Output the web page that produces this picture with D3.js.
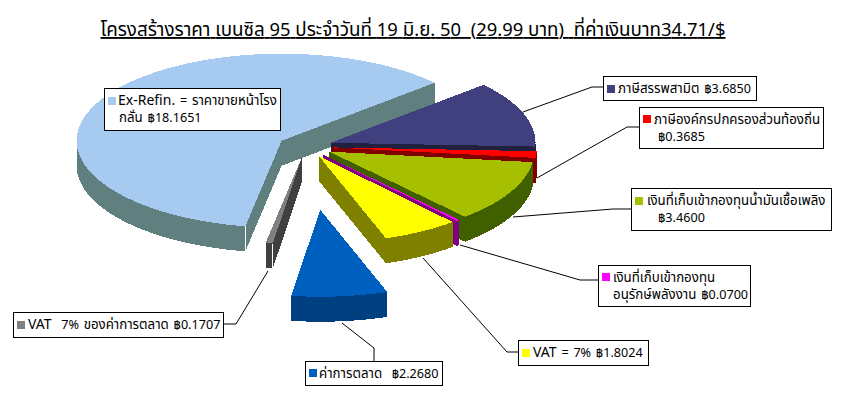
<!DOCTYPE html>
<html><head><meta charset="utf-8">
<script src="https://cdn.jsdelivr.net/npm/d3@7/dist/d3.min.js"></script>
<style>html,body{margin:0;padding:0;background:#fff}svg{display:block}</style>
</head><body><svg id="c" width="842" height="400"></svg>
<script>
const titleText = "โครงสร้างราคา เบนซิล 95 ประจำวันที่ 19 มิ.ย. 50  (29.99 บาท)  ที่ค่าเงินบาท34.71/$";
const categories = ["Ex-Refin. = ราคาขายหน้าโรงกลั่น","ภาษีสรรพสามิต","ภาษีองค์กรปกครองส่วนท้องถิ่น","เงินที่เก็บเข้ากองทุนน้ำมันเชื้อเพลิง","เงินที่เก็บเข้ากองทุนอนุรักษ์พลังงาน","VAT = 7%","ค่าการตลาด","VAT  7% ของค่าการตลาด"];
const values = [18.1651,3.6850,0.3685,3.4600,0.0700,1.8024,2.2680,0.1707];
const topColors = ["#A6CAF0","#40407F","#FF0000","#A6BF00","#FF00FF","#FFFF00","#0060C0","#808080"];
const wallColors = ["#607F7F","#20203F","#800000","#406000","#800080","#808000","#004080","#404040"];
const explodePct = [13.6,12.7,12.7,12.7,12.7,12.7,73,12.7];
const labelLines = [
 ["Ex-Refin. = ราคาขายหน้าโรง","กลั่น ฿18.1651"],
 ["ภาษีสรรพสามิต ฿3.6850"],
 ["ภาษีองค์กรปกครองส่วนท้องถิ่น","฿0.3685"],
 ["เงินที่เก็บเข้ากองทุนน้ำมันเชื้อเพลิง","฿3.4600"],
 ["เงินที่เก็บเข้ากองทุน","อนุรักษ์พลังงาน ฿0.0700"],
 ["VAT = 7% ฿1.8024"],
 ["ค่าการตลาด  ฿2.2680"],
 ["VAT  7% ของค่าการตลาด ฿0.1707"]
];
const labelBoxes = [[104,88,176,42],[603,76,153,24],[639,107,184,41],[631,188,200,42],[598,265,152,41],[518,340,130,25],[305,361,137,24],[13,312,210,25]];
const swatchTop = [9,9,8,9,8,9,8,9];
const firstIndent = [14,15,15,16,15,15,14,15];
const contIndent = [15,0,19,27,15,0,0,0];
const leaders = [
 null,
 [[523,112],[592,87],[603,87]],
 [[537,178],[627,127],[639,127]],
 [[513,217],[613,209],[631,209]],
 [[460,245],[580,280],[598,280]],
 [[423,258],[507,352],[518,352]],
 [[342,323],[374,348],[374,361]],
 [[268,271],[236,324],[223,324]]
];
const FONT = "Tahoma, 'Noto Sans Thai', 'Noto Sans', 'DejaVu Sans', sans-serif";
const cx=306, cy=146.5, rx=205, ry=87, depth=25;
const x = d3.scaleLinear().domain([-1,1]).range([-rx,rx]);
const y = d3.scaleLinear().domain([-1,1]).range([-ry,ry]);
const svg = d3.select("#c");
const rad = d=>d*Math.PI/180;
const pie = d3.pie().sort(null).startAngle(rad(190.2)).endAngle(rad(190.2+360));
const arcs = pie(values);
const line = d3.line();
const gP = svg.append("g").attr("shape-rendering","crispEdges");
const order = [0,7,1,2,3,4,5,6];
function pt(a,ox,oy,dz){return [ox+x(Math.sin(a)), oy-y(Math.cos(a))+dz];}
function arcPts(a0,a1,ox,oy,dz){const n=Math.max(2,Math.ceil((a1-a0)/rad(1)));return d3.range(n+1).map(i=>pt(a0+(a1-a0)*i/n,ox,oy,dz));}
order.forEach(i=>{
  const d=arcs[i], mid=(d.startAngle+d.endAngle)/2, e=explodePct[i]/100;
  const ox=cx+x(e*Math.sin(mid)), oy=cy-y(e*Math.cos(mid));
  const v0=[ox,oy], v1=[ox,oy+depth];
  [d.startAngle,d.endAngle].forEach(a=>{
    const p=pt(a,ox,oy,0), q=pt(a,ox,oy,depth);
    gP.append("path").attr("d",line([v0,p,q,v1])+"Z").attr("fill",wallColors[i]);
  });
  [0,1].forEach(k=>{
    const lo=Math.max(d.startAngle,rad(90+360*k)), hi=Math.min(d.endAngle,rad(270+360*k));
    if(hi>lo){
      const a=arcPts(lo,hi,ox,oy,0), b=arcPts(lo,hi,ox,oy,depth).reverse();
      gP.append("path").attr("d",line(a.concat(b))+"Z").attr("fill",wallColors[i]);
    }
  });
  gP.append("path").attr("d",line([v0].concat(arcPts(d.startAngle,d.endAngle,ox,oy,0)))+"Z").attr("fill",topColors[i]);
  if(i===0||i===7){
    const a=d.startAngle, p=pt(a,ox,oy,0), q=pt(a,ox,oy,depth);
    svg.append("path").attr("d",line([p,q])).attr("stroke","#fff").attr("fill","none").attr("shape-rendering","crispEdges");
  }
});
function runs(sel,t,thai,letters,other){
  (t.match(/[\u0E00-\u0E3E\u0E40-\u0E7F]+|[A-Za-z\-.=%]+(?![0-9])|[^\u0E00-\u0E3E\u0E40-\u0E7F]/g)||[]).forEach(r=>{
    const size=/^[\u0E00-\u0E3E\u0E40-\u0E7F]/.test(r)?thai:(/^[A-Za-z]/.test(r)?letters:other);
    sel.append("tspan").attr("font-size",size).text(r);
  });
}
leaders.forEach(l=>{ if(l) svg.append("path").attr("d",line(l)).attr("fill","none").attr("stroke","#000").attr("stroke-width",1); });
labelBoxes.forEach((b,i)=>{
  const g=svg.append("g");
  g.append("rect").attr("x",b[0]+.5).attr("y",b[1]+.5).attr("width",b[2]).attr("height",b[3]).attr("fill","#fff").attr("stroke","#000").attr("shape-rendering","crispEdges");
  g.append("rect").attr("x",b[0]+4).attr("y",b[1]+swatchTop[i]).attr("width",8).attr("height",8).attr("fill",topColors[i]);
  labelLines[i].forEach((t,k)=>{
    const te=g.append("text").attr("x",b[0]+(k?contIndent[i]:firstIndent[i])).attr("y",b[1]+17+k*17).attr("font-family",FONT).attr("fill","#000").style("white-space","pre").style("word-spacing","1.5px");
    runs(te,t,13.3,14,12.6);
  });
});
const tt=svg.append("text").attr("x",413).attr("y",36).attr("text-anchor","middle").attr("font-family",FONT).attr("text-decoration","underline").style("white-space","pre");
runs(tt,titleText,18.8,18.4,18.4);
</script></body></html>
